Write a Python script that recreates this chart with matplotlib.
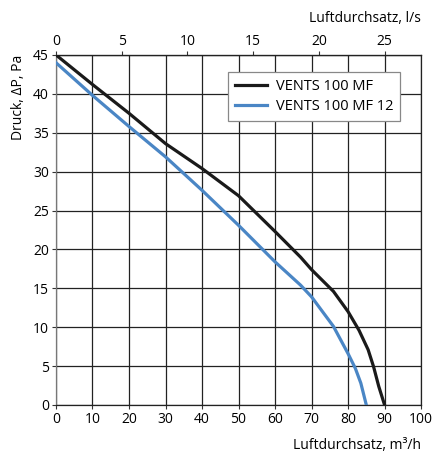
import numpy as np
import matplotlib.pyplot as plt

plt.rcParams['font.family'] = ['Open Sans', 'DejaVu Sans']

# m3/h vs Pa
mf_q = [0, 10, 20, 30, 40, 50, 60, 67, 70, 76, 80, 83, 85.5, 87, 88.4, 90]
mf_p = [45, 41.2, 37.5, 33.6, 30.4, 26.9, 22.3, 19.0, 17.4, 14.6, 12.0, 9.6, 7.1, 4.9, 2.4, 0]
mf12_q = [0, 10, 20, 30, 40, 50, 60, 67, 70, 76, 80, 82, 83.5, 85]
mf12_p = [44, 39.8, 35.8, 31.9, 27.6, 23.1, 18.4, 15.4, 13.9, 10.1, 6.6, 4.7, 2.8, 0]

x_ticks = np.arange(0, 101, 10)
y_ticks = np.arange(0, 46, 5)
ls_ticks = [0, 5, 10, 15, 20, 25]

fig = plt.figure(figsize=(4.35, 4.54), dpi=100)
ax = fig.add_axes([0.1287, 0.108, 0.8393, 0.771])

ax.plot(mf_q, mf_p, color='#1a1a1a', lw=2.3, label='VENTS 100 MF', zorder=3)
ax.plot(mf12_q, mf12_p, color='#4a86c5', lw=2.3, label='VENTS 100 MF 12', zorder=3)

ax.set_xlim(0, 100)
ax.set_ylim(0, 45)
ax.set_xticks(x_ticks)
ax.set_yticks(y_ticks)
ax.grid(True, color='#222222', lw=0.9)
for s in ax.spines.values():
    s.set_color('#222222')
    s.set_linewidth(0.9)
ax.spines['left'].set_color('#777777')
ax.tick_params(labelsize=10, length=3, width=0.8, color='#333333', pad=2)

ax.set_xlabel('Luftdurchsatz, m³/h', fontsize=10, loc='right', labelpad=8)
ax.set_ylabel('Druck, ΔP, Pa', fontsize=10, loc='top', labelpad=5)

sec = ax.secondary_xaxis('top', functions=(lambda q: q / 3.6, lambda l: l * 3.6))
sec.set_xticks(ls_ticks)
sec.tick_params(labelsize=10, length=3, width=0.8, color='#333333', pad=1)
sec.set_xlabel('Luftdurchsatz, l/s', fontsize=10, loc='right', labelpad=9)

leg = ax.legend(loc='upper right', bbox_to_anchor=(0.942, 0.951), fontsize=10.5,
                fancybox=False, framealpha=1, edgecolor='#888888',
                handlelength=2.2, handletextpad=0.6, borderpad=0.45,
                labelspacing=0.4, borderaxespad=0)
leg.get_frame().set_linewidth(0.9)

fig.savefig('out.png', dpi=100)
